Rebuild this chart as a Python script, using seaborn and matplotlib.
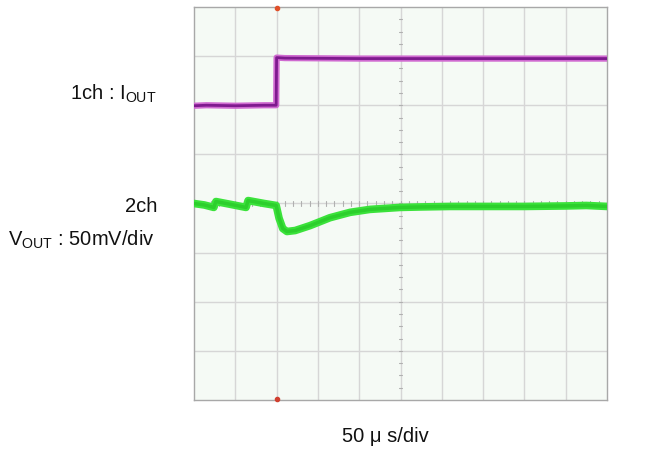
import numpy as np
import pandas as pd
import matplotlib
matplotlib.use("Agg")
import matplotlib.pyplot as plt
import seaborn as sns

# ---- data (in oscilloscope divisions) ----
ch1_time = [0.0, 0.3, 1.0, 1.7, 1.99, 2.0, 2.2, 4.0, 6.0, 8.0, 10.0]
ch1_level = [1.99, 2.0, 1.99, 2.0, 2.0, 2.97, 2.96, 2.95, 2.95, 2.95, 2.95]

ch2_time = [0.0, 0.25, 0.48, 0.53, 0.9, 1.26, 1.31, 1.7, 1.99, 2.06, 2.15, 2.25,
            2.45, 2.81, 3.29, 3.78, 4.26, 4.99, 5.5, 6.2, 7.0, 8.0, 9.0, 9.5, 10.0]
ch2_level = [0.0, -0.03, -0.08, 0.04, -0.02, -0.08, 0.06, 0.0, -0.04, -0.3, -0.51, -0.57,
             -0.55, -0.45, -0.29, -0.18, -0.12, -0.08, -0.07, -0.06, -0.06, -0.06, -0.05, -0.04, -0.06]

labels_ch1 = "1ch : I$_\\mathrm{OUT}$"
labels_ch2a = "2ch"
labels_ch2b = "V$_\\mathrm{OUT}$ : 50mV/div"
label_time = "50 μ s/div"

sns.set_theme(style="white")
plt.rcParams["font.family"] = ["Liberation Sans", "DejaVu Sans"]
plt.rcParams["mathtext.fontset"] = "custom"
plt.rcParams["mathtext.rm"] = "Liberation Sans"
plt.rcParams["mathtext.it"] = "Liberation Sans:italic"

fig = plt.figure(figsize=(6.66, 4.5), dpi=100)
ax = fig.add_axes([194/666, 1-400/450, 413/666, 393/450])
ax.set_facecolor("#f5faf5")

ax.set_xlim(0, 10)
ax.set_ylim(-4, 4)

# grid
for gx in range(1, 10):
    ax.axvline(gx, color="#d6d6d6", lw=1.0, zorder=1)
for gy in range(-3, 4):
    ax.axhline(gy, color="#d6d6d6", lw=1.0, zorder=1)
# center axis minor ticks
for tx in np.arange(0, 10.01, 0.2):
    ax.plot([tx, tx], [-0.05, 0.05], color="#b0b0b0", lw=0.8, zorder=1)
for ty in np.arange(-4, 4.01, 0.25):
    ax.plot([4.97, 5.03], [ty, ty], color="#b0b0b0", lw=0.8, zorder=1)

df1 = pd.DataFrame({"t": ch1_time, "v": ch1_level})
df2 = pd.DataFrame({"t": ch2_time, "v": ch2_level})
sns.lineplot(data=df1, x="t", y="v", ax=ax, color="#cf6ad0", lw=4.5,
             estimator=None, sort=False, zorder=3)
sns.lineplot(data=df1, x="t", y="v", ax=ax, color="#7e1a8e", lw=2.0,
             estimator=None, sort=False, zorder=4)
sns.lineplot(data=df2, x="t", y="v", ax=ax, color="#3be23b", lw=5.5,
             estimator=None, sort=False, zorder=3)
sns.lineplot(data=df2, x="t", y="v", ax=ax, color="#2ccf2c", lw=2.5,
             estimator=None, sort=False, zorder=4)

# trigger markers
ax.plot([2], [3.97], marker="o", ms=3, color="#e0502a", clip_on=False, zorder=5)
ax.plot([2], [-3.97], marker="o", ms=3, color="#d04030", clip_on=False, zorder=5)

ax.set_xticks([])
ax.set_yticks([])
ax.set_xlabel("")
ax.set_ylabel("")
for s in ax.spines.values():
    s.set_color("#a8a8a8")
    s.set_linewidth(1.0)

fs = 14.5
fig.text(157/666, 1-100/450, labels_ch1, ha="right", va="baseline", fontsize=fs, color="#111111")
fig.text(157/666, 1-212/450, labels_ch2a, ha="right", va="baseline", fontsize=fs, color="#111111")
fig.text(155/666, 1-246/450, labels_ch2b, ha="right", va="baseline", fontsize=fs, color="#111111")
fig.text(385/666, 1-442/450, label_time, ha="center", va="baseline", fontsize=fs, color="#111111")

fig.savefig("out.png", dpi=100, facecolor="white")
